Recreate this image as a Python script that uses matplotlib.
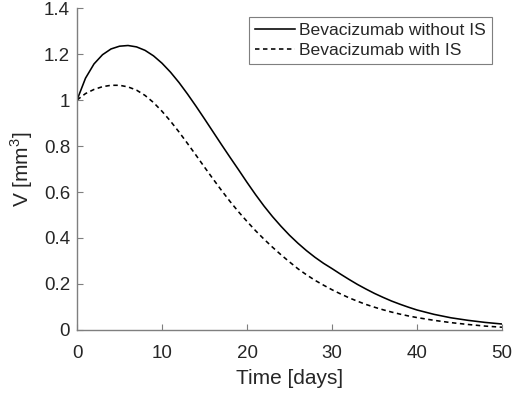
import matplotlib
matplotlib.use("Agg")
import matplotlib.pyplot as plt

plt.rcParams['font.family'] = ['Liberation Sans', 'DejaVu Sans']
plt.rcParams['mathtext.fontset'] = 'custom'
plt.rcParams['mathtext.rm'] = 'Liberation Sans'

# time [days]
t = [0, 1, 2, 3, 4, 5, 6, 7, 8, 9, 10, 11, 12, 13, 14, 15, 16, 17, 18, 19,
     20, 21, 22, 23, 24, 25, 26, 27, 28, 29, 30, 31, 32, 33, 34, 35, 36, 37, 38, 39,
     40, 42, 44, 46, 48, 50]

# tumour volume [mm^3]
v_without_is = [1.00, 1.095, 1.157, 1.197, 1.222, 1.234, 1.237, 1.231, 1.216, 1.192,
                1.160, 1.121, 1.076, 1.026, 0.973, 0.918, 0.862, 0.806, 0.751, 0.697,
                0.642, 0.589, 0.539, 0.493, 0.451, 0.412, 0.377, 0.345, 0.316, 0.290,
                0.267, 0.243, 0.220, 0.198, 0.178, 0.159, 0.142, 0.126, 0.112, 0.099,
                0.087, 0.068, 0.053, 0.042, 0.033, 0.026]
v_with_is = [1.00, 1.028, 1.046, 1.058, 1.064, 1.064, 1.057, 1.043, 1.020, 0.989,
             0.951, 0.908, 0.861, 0.811, 0.760, 0.708, 0.657, 0.607, 0.559, 0.514,
             0.472, 0.432, 0.395, 0.360, 0.327, 0.296, 0.266, 0.240, 0.216, 0.195,
             0.175, 0.157, 0.140, 0.125, 0.111, 0.099, 0.088, 0.078, 0.069, 0.061,
             0.054, 0.042, 0.032, 0.024, 0.017, 0.012]

xticks = [0, 10, 20, 30, 40, 50]
yticks = [0, 0.2, 0.4, 0.6, 0.8, 1.0, 1.2, 1.4]
yticklabels = ['0', '0.2', '0.4', '0.6', '0.8', '1', '1.2', '1.4']

TXT = '#262626'
AX = '#7f7f7f'

fig = plt.figure(figsize=(5.19, 3.97), dpi=100)
ax = fig.add_axes([0.1484, 0.1688, 0.8188, 0.811])

ax.plot(t, v_without_is, color='black', lw=1.15, label='Bevacizumab without IS')
ax.plot(t, v_with_is, color='black', lw=1.15, ls=(0, (2.8, 2.2)), label='Bevacizumab with IS')

ax.set_xlim(0, 50)
ax.set_ylim(0, 1.4)
ax.set_xticks(xticks)
ax.set_yticks(yticks)
ax.set_yticklabels(yticklabels)

for s in ['top', 'right']:
    ax.spines[s].set_visible(False)
for s in ['left', 'bottom']:
    ax.spines[s].set_color(AX)
    ax.spines[s].set_linewidth(1.0)
ax.tick_params(direction='in', length=4, width=0.8, color=AX,
               labelcolor=TXT, labelsize=13.5)
ax.tick_params(axis='x', pad=11)
ax.tick_params(axis='y', pad=5)

ax.set_xlabel('Time [days]', fontsize=15, color=TXT, labelpad=5)
ax.set_ylabel('V [mm$^3$]', fontsize=15, color=TXT, labelpad=6)

leg = ax.legend(loc='upper right', bbox_to_anchor=(0.976, 0.972), borderaxespad=0,
                fancybox=False, framealpha=1, edgecolor=AX, fontsize=12.6,
                handlelength=2.3, handletextpad=0.2, borderpad=0.35, labelspacing=0.25)
leg.get_frame().set_linewidth(0.8)
for txt in leg.get_texts():
    txt.set_color(TXT)

fig.savefig('out.png', dpi=100)
